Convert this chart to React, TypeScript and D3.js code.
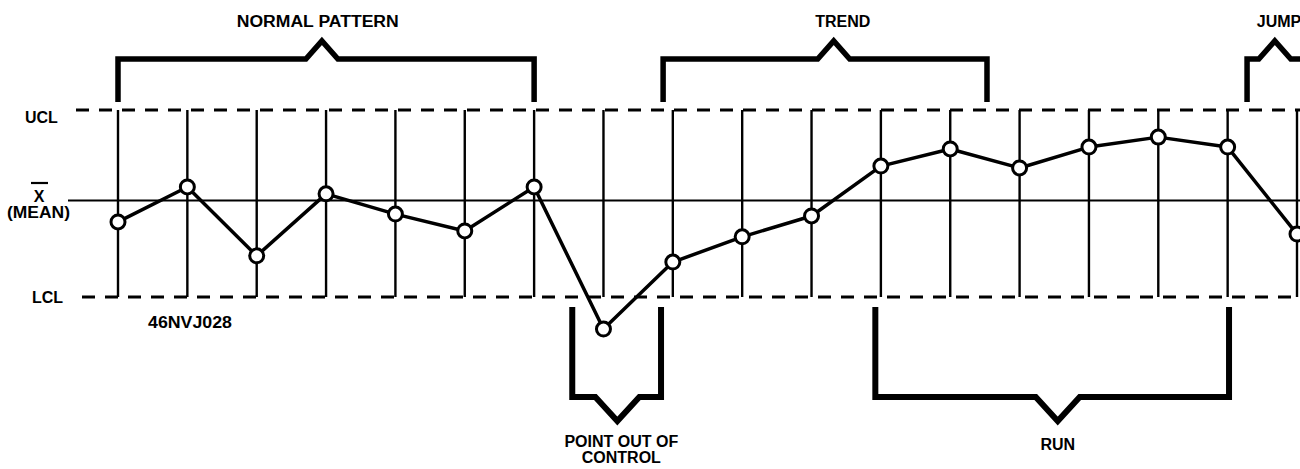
import * as d3 from 'd3';

const W = 1300;
const H = 469;

// sample numbers and plotted sample means (in sigma units about the center line)
const sampleNo = [1, 2, 3, 4, 5, 6, 7, 8, 9, 10, 11, 12, 13, 14, 15, 16, 17, 18];
const sampleVal = [-0.69, 0.43, -1.78, 0.21, -0.44, -0.98, 0.43, -4.13, -1.98, -1.17, -0.5, 1.1, 1.65, 1.04, 1.71, 2.03, 1.71, -1.08];

const UCL = 2.9;
const LCL = -3.1;
const MEAN = 0;

// annotation brackets, in sample units
const topLabels = ['NORMAL PATTERN', 'TREND', 'JUMP'];
const topFrom = [1, 8.86, 17.28];
const topTo = [7, 13.53, 19.5];
const topPeak = [3.94, 11.32, 17.68];
const topTextAt = [3.88, 11.45, 17.74];

const bottomLabels = [['POINT OUT OF', 'CONTROL'], ['RUN']];
const bottomFrom = [7.55, 11.92];
const bottomTo = [8.83, 17.02];
const bottomPeak = [8.2, 14.55];

const FONT = "'Liberation Sans', Arial, Helvetica, sans-serif";

export default function App() {
  const x = d3.scaleLinear().domain([1, 18]).range([118, 1297]);
  const y = d3.scaleLinear().domain([LCL, UCL]).range([297, 110]);

  const line = d3.line<number>()
    .x((_, i) => x(sampleNo[i]))
    .y(d => y(d));

  const path = d3.line<[number, number]>().x(d => d[0]).y(d => d[1]);

  // top brackets: legs down toward the UCL, notch pointing up
  const TOP_Y = 59, TOP_LEG = 102, TOP_TIP = 41, TOP_HW = 16;
  const topPaths = topLabels.map((_, i) => {
    const x0 = x(topFrom[i]), x1 = x(topTo[i]), p = x(topPeak[i]);
    return path([
      [x0, TOP_LEG], [x0, TOP_Y], [p - TOP_HW, TOP_Y], [p, TOP_TIP],
      [p + TOP_HW, TOP_Y], [x1, TOP_Y], [x1, TOP_LEG],
    ]);
  });

  // bottom brackets: legs up toward the LCL, notch pointing down
  const BOT_Y = 397, BOT_LEG = 307, BOT_TIP = 421, BOT_HW = 22;
  const bottomPaths = bottomLabels.map((_, i) => {
    const x0 = x(bottomFrom[i]), x1 = x(bottomTo[i]), p = x(bottomPeak[i]);
    return path([
      [x0, BOT_LEG], [x0, BOT_Y], [p - BOT_HW, BOT_Y], [p, BOT_TIP],
      [p + BOT_HW, BOT_Y], [x1, BOT_Y], [x1, BOT_LEG],
    ]);
  });

  const textStyle = { fontFamily: FONT, fontWeight: 700 as const, fontSize: 16, fill: '#000' };

  return (
    <svg width={W} height={H} style={{ position: 'absolute', left: 0, top: 0, display: 'block', background: '#fff' }}>
      <rect width={W} height={H} fill="#fff" />

      {/* sample verticals */}
      {sampleNo.map(s => (
        <line key={s} x1={x(s)} x2={x(s)} y1={y(UCL)} y2={y(LCL)} stroke="#000" strokeWidth={2.4} />
      ))}

      {/* control limits and center line */}
      <line x1={76} x2={W} y1={y(UCL)} y2={y(UCL)} stroke="#000" strokeWidth={3} strokeDasharray="13 10" />
      <line x1={82} x2={W} y1={y(LCL)} y2={y(LCL)} stroke="#000" strokeWidth={3} strokeDasharray="13 10" />
      <line x1={68} x2={W} y1={y(MEAN)} y2={y(MEAN)} stroke="#000" strokeWidth={2} />

      {/* axis labels */}
      <text x={25} y={123} style={textStyle}>UCL</text>
      <text x={32} y={303} style={textStyle}>LCL</text>
      <text x={39} y={202} textAnchor="middle" style={textStyle}>X</text>
      <line x1={31} x2={48} y1={183} y2={183} stroke="#000" strokeWidth={2.2} />
      <text x={7} y={218} style={textStyle} textLength={63} lengthAdjust="spacingAndGlyphs">(MEAN)</text>
      <text x={148} y={328} style={textStyle} textLength={84} lengthAdjust="spacingAndGlyphs">46NVJ028</text>

      {/* data */}
      <path d={line(sampleVal) ?? ''} fill="none" stroke="#000" strokeWidth={3.5} strokeLinejoin="round" />
      {sampleVal.map((v, i) => (
        <circle key={i} cx={x(sampleNo[i])} cy={y(v)} r={7} fill="#fff" stroke="#000" strokeWidth={3} />
      ))}

      {/* brackets */}
      {topPaths.map((d, i) => (
        <g key={'t' + i}>
          <path d={d ?? ''} fill="none" stroke="#000" strokeWidth={5.5} strokeLinejoin="miter" />
          <text x={x(topTextAt[i])} y={27} textAnchor="middle" style={textStyle}
            textLength={i === 0 ? 162 : undefined} lengthAdjust="spacingAndGlyphs">{topLabels[i]}</text>
        </g>
      ))}
      {bottomPaths.map((d, i) => (
        <g key={'b' + i}>
          <path d={d ?? ''} fill="none" stroke="#000" strokeWidth={6} strokeLinejoin="miter" />
          {bottomLabels[i].map((t, j) => (
            <text key={j} x={x(bottomPeak[i]) + (bottomLabels[i].length > 1 ? 4 : 0)} y={(bottomLabels[i].length > 1 ? 447 : 450) + j * 16}
              textAnchor="middle" style={textStyle}>{t}</text>
          ))}
        </g>
      ))}
    </svg>
  );
}
